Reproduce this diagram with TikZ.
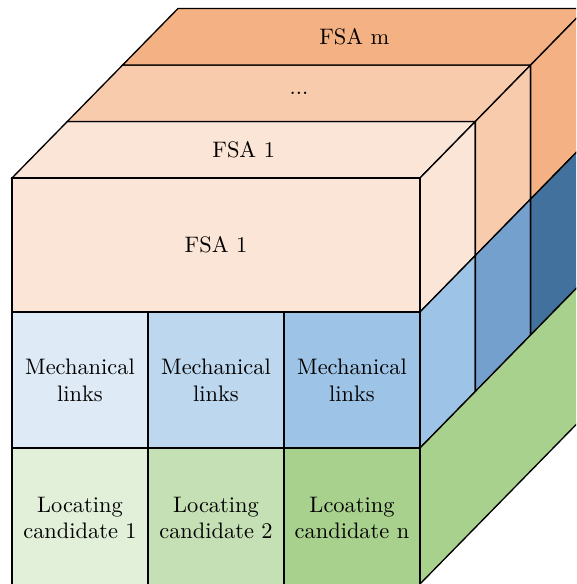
\documentclass[tikz,border=0pt]{standalone}
\usepackage{tikz}
\definecolor{fsafront}{HTML}{FBE5D6}
\definecolor{fsamid}{HTML}{F8CBAD}
\definecolor{fsaback}{HTML}{F4B183}
\definecolor{mechA}{HTML}{DEEBF7}
\definecolor{mechB}{HTML}{BDD7EE}
\definecolor{mechC}{HTML}{9DC3E6}
\definecolor{mechD}{HTML}{74A0CE}
\definecolor{mechE}{HTML}{43719D}
\definecolor{locA}{HTML}{E2F0D9}
\definecolor{locB}{HTML}{C5E0B4}
\definecolor{locC}{HTML}{A9D18E}
\newcommand{\px}{0.446pt}
\newcommand{\dx}{55.33}
\newcommand{\dy}{56.5}

\begin{document}
\begin{tikzpicture}[
    x=\px, y=\px,
    face/.style={draw=black, line width=0.6pt, line join=miter},
    cell/.style={draw=black, line width=0.6pt, align=center, inner sep=0pt,
                 minimum width=136*\px, minimum height=136*\px},
    toplabel/.style={align=center, inner sep=1pt},
]
\useasboundingbox (0,0) rectangle (576,584);
\clip (0,0) rectangle (576,584);

% FSA slabs: top and right faces, front to back
\foreach \k/\col in {0/fsafront, 1/fsamid, 2/fsaback} {
    \filldraw[face, fill=\col]
        ({12+\k*\dx}, {406+\k*\dy}) -- ++(408,0) -- ++(\dx,\dy)
        -- ++(-408,0) -- cycle;
    \filldraw[face, fill=\col]
        ({420+\k*\dx}, {272+\k*\dy}) -- ++(\dx,\dy) -- ++(0,134)
        -- ++(-\dx,-\dy) -- cycle;
}

% mechanical links row: right faces
\foreach \k/\col in {0/mechC, 1/mechD, 2/mechE} {
    \filldraw[face, fill=\col]
        ({420+\k*\dx}, {136+\k*\dy}) -- ++(\dx,\dy) -- ++(0,136)
        -- ++(-\dx,-\dy) -- cycle;
}

% locating row: one right face
\filldraw[face, fill=locC]
    (420,0) -- ++({3*\dx},{3*\dy}) -- ++(0,136) -- (420,136) -- cycle;

% front faces (bottom row runs past the lower edge)
\node[cell, fill=fsafront, minimum width=408*\px, minimum height=134*\px]
    (fsaFront) at (216,339) {FSA 1};
\node[cell, fill=mechA] (mech1) at (80,204)  {Mechanical\\links};
\node[cell, fill=mechB] (mech2) at (216,204) {Mechanical\\links};
\node[cell, fill=mechC] (mech3) at (352,204) {Mechanical\\links};
\node[cell, fill=locA, minimum height=140*\px] (loc1) at (80,66)
    {Locating\\candidate 1};
\node[cell, fill=locB, minimum height=140*\px] (loc2) at (216,66)
    {Locating\\candidate 2};
\node[cell, fill=locC, minimum height=140*\px] (locN) at (352,66)
    {Lcoating\\candidate n};

% labels on the top faces
\node[toplabel] (fsaTop)  at ({216+0.5*\dx}, {406+0.5*\dy}) {FSA 1};
\node[toplabel] (fsaDots) at ({216+1.5*\dx}, {406+1.5*\dy}) {...};
\node[toplabel] (fsaM)    at ({216+2.5*\dx}, {406+2.5*\dy}) {FSA m};

\end{tikzpicture}
\end{document}
